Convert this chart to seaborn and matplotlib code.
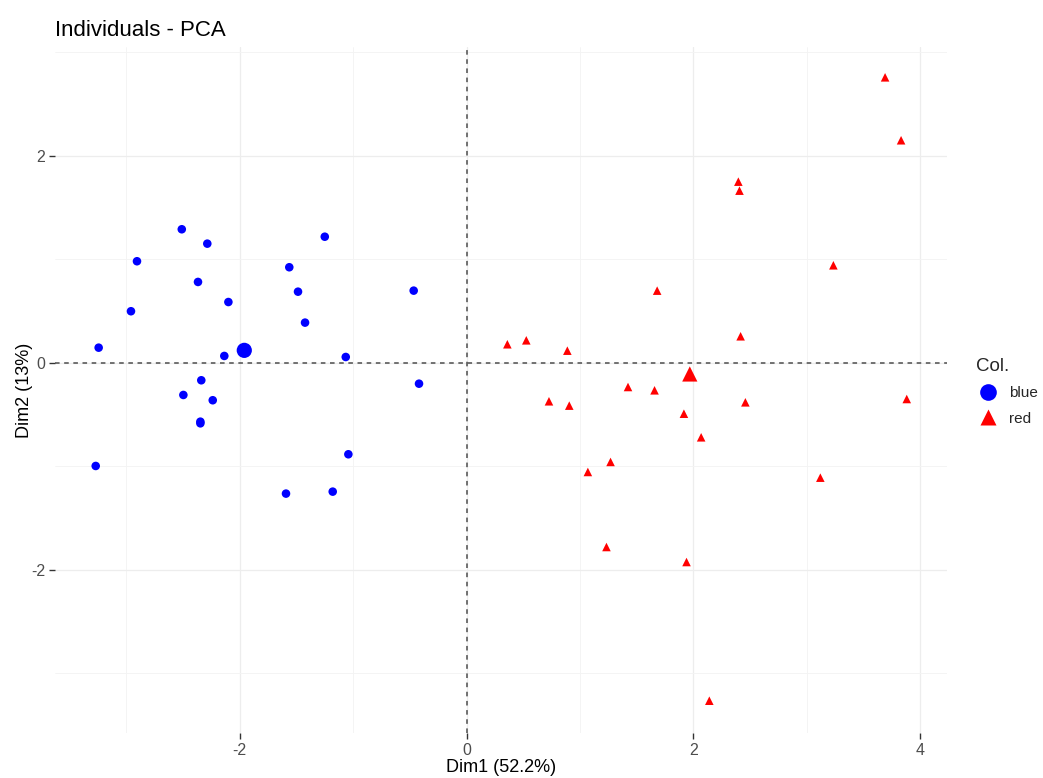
import numpy as np
import pandas as pd
import matplotlib
matplotlib.use("Agg")
import matplotlib.pyplot as plt
import seaborn as sns
from matplotlib.lines import Line2D

# ---- data ----
blue_dim1 = [-2.511, -2.286, -2.906, -1.250, -1.563, -2.368, -1.486, -2.100,
             -0.466, -2.959, -1.424, -3.244, -2.136, -1.065, -2.339, -0.419,
             -2.497, -2.238, -2.347, -2.347, -3.270, -1.042, -1.592, -1.180]
blue_dim2 = [1.289, 1.150, 0.980, 1.217, 0.922, 0.780, 0.686, 0.586,
             0.696, 0.497, 0.387, 0.145, 0.065, 0.055, -0.170, -0.203,
             -0.312, -0.363, -0.586, -0.570, -0.998, -0.885, -1.265, -1.246]
red_dim1 = [3.691, 3.832, 2.397, 2.407, 3.235, 1.681, 2.417, 0.360,
            0.527, 0.889, 1.424, 1.658, 0.727, 0.906, 2.459, 3.882,
            1.917, 2.069, 1.270, 1.070, 3.120, 1.234, 1.940, 2.141]
red_dim2 = [2.757, 2.149, 1.749, 1.662, 0.941, 0.696, 0.255, 0.178,
            0.216, 0.116, -0.235, -0.267, -0.373, -0.415, -0.383, -0.351,
            -0.493, -0.721, -0.959, -1.056, -1.111, -1.781, -1.926, -3.266]
groups = ["blue", "red"]
x_ticks = [-2, 0, 2, 4]
y_ticks = [-2, 0, 2]
title = "Individuals - PCA"
x_label = "Dim1 (52.2%)"
y_label = "Dim2 (13%)"
legend_title = "Col."

df = pd.DataFrame({
    "Dim1": blue_dim1 + red_dim1,
    "Dim2": blue_dim2 + red_dim2,
    "Col.": ["blue"] * len(blue_dim1) + ["red"] * len(red_dim1),
})
centroids = df.groupby("Col.", as_index=False)[["Dim1", "Dim2"]].mean()

sns.set_theme(style="white")
plt.rcParams["font.family"] = ["Liberation Sans", "DejaVu Sans"]

fig = plt.figure(figsize=(10.43, 7.78), dpi=100)
ax = fig.add_axes([55 / 1043, 1 - 733 / 778, (947 - 55) / 1043, (733 - 47) / 778])

palette = {"blue": "#0000FF", "red": "#FF0000"}
markers = {"blue": "o", "red": "^"}

# grid (ggplot theme_minimal style)
ax.set_xlim(-3.629, 4.237)
ax.set_ylim(-3.578, 3.050)
ax.set_xticks(x_ticks)
ax.set_yticks(y_ticks)
ax.set_xticks([-3, -1, 1, 3], minor=True)
ax.set_yticks([-3, -1, 1, 3], minor=True)
ax.grid(which="major", color="#EDEDED", lw=0.9)
ax.grid(which="minor", color="#F3F3F3", lw=0.6)
ax.set_axisbelow(True)
for sp in ax.spines.values():
    sp.set_visible(False)

ax.axhline(0, color="#4D4D4D", lw=1.1, ls=(0, (3, 3)), zorder=1.5)
ax.axvline(0, color="#4D4D4D", lw=1.1, ls=(0, (3, 3)), zorder=1.5)

sns.scatterplot(data=df, x="Dim1", y="Dim2", hue="Col.", style="Col.",
                palette=palette, markers=markers, s=38, linewidth=0,
                legend=False, ax=ax, zorder=3)
sns.scatterplot(data=centroids, x="Dim1", y="Dim2", hue="Col.", style="Col.",
                palette=palette, markers=markers, s=120, linewidth=0,
                legend=False, ax=ax, zorder=3)

ax.tick_params(axis="both", which="major", length=4, width=1.0, color="#333333",
               labelcolor="#4D4D4D", labelsize=11.5, pad=3, bottom=True, left=True)
ax.tick_params(axis="both", which="minor", length=0)
ax.set_xticklabels([str(v) for v in x_ticks])
ax.set_yticklabels([str(v) for v in y_ticks])

ax.set_xlabel(x_label, fontsize=13, color="black", labelpad=1)
ax.set_ylabel(y_label, fontsize=13, color="black", labelpad=-1)
ax.set_title(title, fontsize=16, loc="left", color="black", pad=8)

handles = [Line2D([0], [0], marker=markers[g], color="none", markerfacecolor=palette[g],
                  markeredgecolor="none", markersize=12, label=g) for g in groups]
leg = fig.legend(handles=handles, title=legend_title, loc="upper left",
                 bbox_to_anchor=(962 / 1043, 1 - 344 / 778), frameon=False,
                 fontsize=11, title_fontsize=13.5, handletextpad=0.6,
                 labelspacing=0.75, alignment="left", handlelength=1.6)

fig.savefig("out.png", dpi=100)
